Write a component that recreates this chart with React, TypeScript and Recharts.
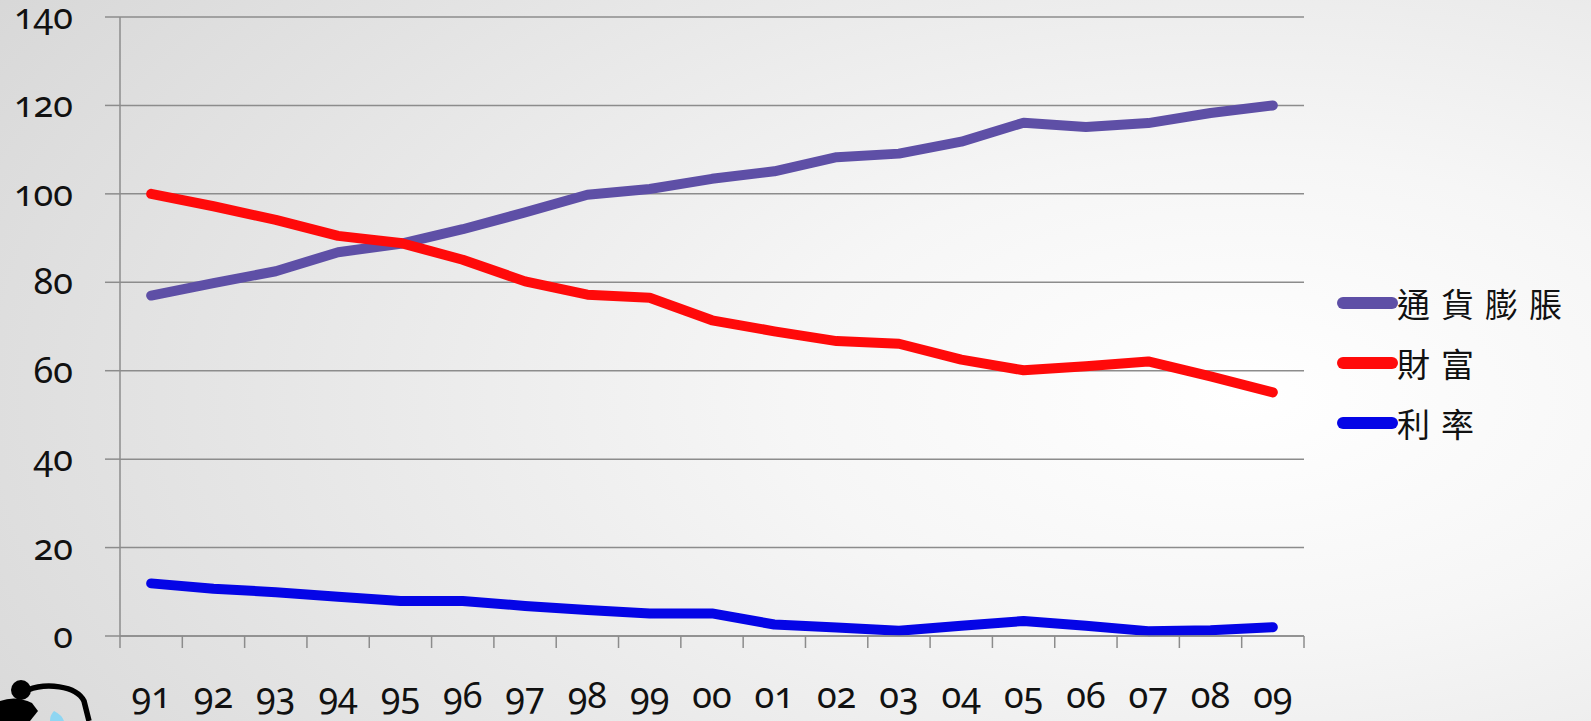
import React from 'react';
import { LineChart, Line, XAxis, YAxis, CartesianGrid } from 'recharts';

// Years (two-digit) along the category axis
const years = ['91', '92', '93', '94', '95', '96', '97', '98', '99', '00', '01', '02', '03', '04', '05', '06', '07', '08', '09'];

// Index series
const inflation = [77, 79.8, 82.5, 86.8, 88.7, 92, 95.8, 99.8, 101.1, 103.4, 105.1, 108.3, 109.1, 111.8, 116.1, 115.1, 116, 118.3, 120];
const wealth = [100, 97.2, 94.1, 90.5, 88.9, 85.1, 80.2, 77.2, 76.5, 71.4, 68.9, 66.7, 66.1, 62.5, 60.1, 61, 62.1, 58.7, 55.1];
const rate = [11.9, 10.7, 9.9, 8.9, 7.9, 7.9, 6.8, 5.9, 5.1, 5.1, 2.6, 1.9, 1.2, 2.3, 3.4, 2.3, 1.1, 1.3, 2.0];

const yTicks = [0, 20, 40, 60, 80, 100, 120, 140];

const seriesNames = ['通貨膨脹', '財富', '利率'];
const seriesColors = ['#5e4fa6', '#ff0a0a', '#0505e6'];

const data = years.map((y, i) => ({
  year: y,
  inflation: inflation[i],
  wealth: wealth[i],
  rate: rate[i],
}));

const W = 1591;
const H = 721;
const PLOT_LEFT = 120;
const PLOT_RIGHT = 1304;
const PLOT_TOP = 17;
const PLOT_BOTTOM = 636;
const HALF_BAND = (PLOT_RIGHT - PLOT_LEFT) / years.length / 2;

const numFont: React.CSSProperties = {
  fontFamily: '"Noto Sans", sans-serif',
  fontVariantNumeric: 'oldstyle-nums',
  fontFeatureSettings: '"onum" 1',
};

// Category label plus a tick mark on the band boundary to its left (and right for the last one)
const XTick = (props: any) => {
  const { x, payload, index } = props;
  const axisY = PLOT_BOTTOM;
  const last = index === years.length - 1;
  return (
    <g>
      <line x1={x - HALF_BAND} x2={x - HALF_BAND} y1={axisY} y2={axisY + 12} stroke="#8c8c8c" strokeWidth={1.5} />
      {last && <line x1={x + HALF_BAND} x2={x + HALF_BAND} y1={axisY} y2={axisY + 12} stroke="#8c8c8c" strokeWidth={1.5} />}
      <text x={x} y={708} textAnchor="middle" fontSize={36} fill="#111" style={numFont}>
        {payload.value}
      </text>
    </g>
  );
};

const YTick = (props: any) => {
  const { y, payload } = props;
  return (
    <text x={73} y={y + 12} textAnchor="end" fontSize={36} fill="#111" style={numFont}>
      {payload.value}
    </text>
  );
};

const LegendBox = () => (
  <div style={{ position: 'absolute', left: 1330, top: 273, display: 'flex', flexDirection: 'column' }}>
    {seriesNames.map((n, i) => (
      <div key={n} style={{ display: 'flex', alignItems: 'center', height: 60 }}>
        <svg width={68} height={16} style={{ display: 'block' }}>
          <line x1={13} x2={62} y1={8} y2={8} stroke={seriesColors[i]} strokeWidth={12} strokeLinecap="round" />
        </svg>
        <span
          style={{
            fontFamily: '"Noto Sans CJK TC", sans-serif',
            fontSize: 33,
            letterSpacing: 11,
            color: '#111',
            lineHeight: '40px',
            marginLeft: -1,
            whiteSpace: 'nowrap',
          }}
        >
          {n}
        </span>
      </div>
    ))}
  </div>
);

export default function App() {
  return (
    <div
      style={{
        position: 'absolute',
        left: 0,
        top: 0,
        width: W,
        height: H,
        overflow: 'hidden',
        background:
          'radial-gradient(ellipse 95% 110% at 78% 55%, #ffffff 0%, #f6f6f6 30%, #e6e6e6 65%, #d6d6d6 100%)',
      }}
    >
      <LineChart
        width={W}
        height={H}
        data={data}
        margin={{ top: PLOT_TOP, right: W - PLOT_RIGHT, bottom: 0, left: 0 }}
      >
        <CartesianGrid vertical={false} stroke="#8c8c8c" strokeWidth={1.5} />
        <XAxis
          dataKey="year"
          height={H - PLOT_BOTTOM}
          padding={{ left: HALF_BAND, right: HALF_BAND }}
          axisLine={{ stroke: '#8c8c8c', strokeWidth: 1.5 }}
          tickLine={false}
          tick={<XTick />}
          interval={0}
        />
        <YAxis
          width={PLOT_LEFT}
          domain={[0, 140]}
          ticks={yTicks}
          axisLine={{ stroke: '#8c8c8c', strokeWidth: 1.5 }}
          tickLine={{ stroke: '#8c8c8c', strokeWidth: 1.5 }}
          tickSize={15}
          tick={<YTick />}
        />
        <Line dataKey="inflation" name={seriesNames[0]} stroke={seriesColors[0]} strokeWidth={10} dot={false} strokeLinejoin="round" strokeLinecap="round" isAnimationActive={false} />
        <Line dataKey="wealth" name={seriesNames[1]} stroke={seriesColors[1]} strokeWidth={10} dot={false} strokeLinejoin="round" strokeLinecap="round" isAnimationActive={false} />
        <Line dataKey="rate" name={seriesNames[2]} stroke={seriesColors[2]} strokeWidth={10} dot={false} strokeLinejoin="round" strokeLinecap="round" isAnimationActive={false} />
      </LineChart>
      <LegendBox />
      <svg width={110} height={50} style={{ position: 'absolute', left: 0, top: 671 }}>
        <path d="M 28 19 C 45 12, 76 14, 84 30 L 89 50" fill="none" stroke="#000" strokeWidth={5.5} />
        <circle cx={21} cy={19} r={10} fill="#000" />
        <path d="M 0 30 Q 16 24 32 32 L 38 40 L 30 50 L 0 50 Z" fill="#000" />
        <path d="M 54 40 Q 62 44 64 50 L 50 50 Q 50 44 54 40 Z" fill="#8fd6f2" />
      </svg>
    </div>
  );
}
